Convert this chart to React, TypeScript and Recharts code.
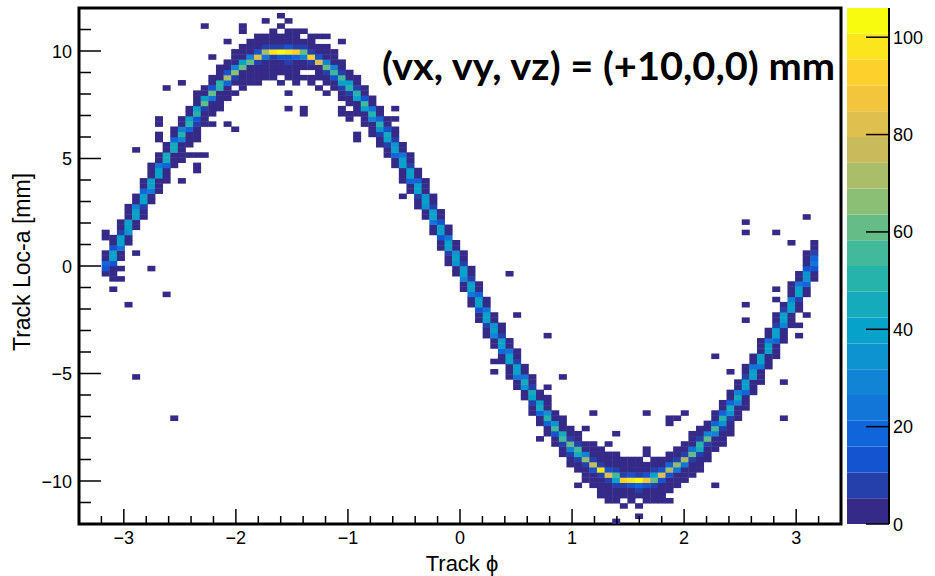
import React from 'react'
import { ScatterChart, Scatter, XAxis, YAxis, ReferenceArea } from 'recharts'

// histogram binning (Track phi vs Track Loc-a)
const X_MIN = -3.4
const X_MAX = 3.4
const NX = 100
const Y_MIN = -12
const Y_MAX = 12
const NY = 100
const Z_MAX = 106
const N_LEVELS = 20

const X_MAJOR = [-3, -2, -1, 0, 1, 2, 3]
const Y_MAJOR = [-10, -5, 0, 5, 10]
const Z_TICKS = [0, 20, 40, 60, 80, 100]

// [phi bin, first loc-a bin, counts going up in loc-a]
const TRACK_COLUMNS: [number, number, number[]][] = [
  [3, 48, [1, 14, 18, 4, 2]],
  [4, 48, [2, 3, 14, 38, 38, 14, 3, 1]],
  [5, 51, [1, 3, 24, 40, 40, 8, 3, 2]],
  [6, 54, [2, 3, 32, 40, 40, 5, 2, 1]],
  [7, 57, [1, 3, 40, 40, 30, 4, 2]],
  [8, 59, [2, 3, 10, 40, 40, 16, 3, 1]],
  [9, 62, [1, 3, 24, 42, 42, 5, 2, 1]],
  [10, 64, [2, 3, 5, 40, 42, 24, 3, 2]],
  [11, 66, [1, 3, 4, 20, 46, 44, 4, 2]],
  [12, 69, [2, 3, 5, 44, 46, 18, 3, 1]],
  [13, 71, [1, 3, 5, 28, 48, 28, 4, 2]],
  [14, 73, [2, 3, 5, 18, 50, 38, 4, 2]],
  [15, 75, [1, 3, 6, 14, 50, 40, 5, 2, 1]],
  [16, 77, [2, 3, 4, 6, 62, 40, 4, 3]],
  [17, 79, [1, 2, 3, 26, 62, 14, 3, 2]],
  [18, 80, [2, 1, 3, 5, 52, 48, 5, 3, 1]],
  [19, 82, [1, 2, 4, 18, 72, 12, 4, 2]],
  [20, 83, [2, 0, 3, 6, 65, 30, 5, 2, 1]],
  [21, 84, [1, 2, 3, 5, 60, 38, 5, 2, 2]],
  [22, 85, [1, 2, 3, 5, 60, 28, 4, 3, 1]],
  [23, 86, [1, 2, 3, 6, 80, 12, 4, 2, 1]],
  [24, 86, [2, 1, 3, 4, 25, 70, 6, 3, 2]],
  [25, 86, [1, 2, 3, 2, 10, 98, 8, 4, 2, 1]],
  [26, 85, [1, 0, 2, 3, 4, 14, 104, 10, 3, 2, 0, 1]],
  [27, 85, [0, 2, 1, 3, 6, 12, 100, 12, 4, 2, 1, 0, 1]],
  [28, 85, [1, 1, 2, 3, 5, 16, 92, 8, 3, 3, 1]],
  [29, 86, [1, 0, 2, 3, 30, 62, 8, 3, 0, 2]],
  [30, 85, [1, 2, 0, 3, 6, 92, 10, 4, 2, 1]],
  [31, 84, [2, 0, 1, 3, 5, 82, 14, 3, 2, 0, 1]],
  [32, 85, [1, 3, 8, 62, 30, 5, 2, 1]],
  [33, 84, [2, 3, 15, 55, 30, 4, 2, 1]],
  [34, 82, [1, 3, 6, 40, 58, 6, 2, 1]],
  [35, 81, [2, 3, 8, 52, 42, 5, 2]],
  [36, 79, [1, 2, 4, 42, 52, 8, 3, 1]],
  [37, 77, [1, 3, 5, 38, 55, 12, 3, 2]],
  [38, 75, [2, 1, 4, 30, 50, 22, 3, 1]],
  [39, 73, [1, 3, 6, 32, 48, 20, 4, 2]],
  [40, 71, [2, 3, 8, 38, 44, 14, 3, 1]],
  [41, 69, [1, 4, 20, 42, 36, 6, 2, 1]],
  [42, 66, [1, 2, 4, 38, 42, 22, 3, 2]],
  [43, 64, [2, 3, 16, 40, 40, 6, 3, 1]],
  [44, 61, [1, 3, 6, 38, 40, 20, 4, 2]],
  [45, 59, [2, 3, 32, 40, 34, 5, 2, 1]],
  [46, 56, [1, 3, 24, 40, 38, 8, 3, 2]],
  [47, 53, [2, 4, 14, 40, 40, 14, 3, 1]],
  [48, 50, [1, 3, 8, 40, 38, 24, 3, 2]],
  [49, 48, [2, 4, 36, 38, 32, 5, 2]],
  [50, 45, [1, 3, 28, 40, 38, 6, 3, 1]],
  [51, 42, [2, 3, 22, 40, 40, 10, 3, 1]],
  [52, 39, [1, 3, 14, 40, 40, 16, 4, 2]],
  [53, 36, [2, 3, 6, 40, 40, 22, 3, 1]],
  [54, 34, [1, 4, 30, 40, 35, 5, 2]],
  [55, 31, [2, 3, 20, 40, 40, 8, 3, 1]],
  [56, 28, [1, 3, 5, 40, 40, 22, 3, 2]],
  [57, 26, [2, 3, 24, 42, 40, 6, 3, 1]],
  [58, 24, [1, 4, 34, 44, 22, 4, 2]],
  [59, 21, [2, 3, 10, 42, 44, 8, 3, 1]],
  [60, 19, [1, 3, 18, 46, 40, 5, 2]],
  [61, 17, [2, 3, 18, 52, 34, 4, 2, 1]],
  [62, 15, [1, 3, 12, 58, 34, 5, 3]],
  [63, 13, [2, 3, 6, 58, 44, 5, 2, 1]],
  [64, 11, [1, 3, 6, 28, 62, 10, 3, 2]],
  [65, 10, [2, 4, 6, 45, 55, 6, 3, 1]],
  [66, 8, [1, 3, 4, 8, 64, 30, 5, 2]],
  [67, 7, [2, 1, 4, 14, 78, 10, 4, 3, 1]],
  [68, 6, [1, 3, 2, 6, 100, 8, 3, 4, 1]],
  [69, 5, [1, 2, 3, 10, 84, 12, 5, 3, 2]],
  [70, 4, [1, 2, 3, 6, 40, 58, 8, 4, 2, 1]],
  [71, 3, [1, 0, 2, 5, 8, 92, 10, 4, 2, 1]],
  [72, 3, [0, 2, 1, 4, 14, 98, 12, 5, 3, 1]],
  [73, 3, [1, 0, 2, 6, 16, 106, 8, 4, 2, 1]],
  [74, 3, [0, 1, 3, 5, 12, 90, 14, 5, 2, 0, 1]],
  [75, 4, [1, 2, 4, 8, 62, 38, 6, 3, 2]],
  [76, 5, [2, 3, 4, 12, 80, 12, 4, 2]],
  [77, 6, [1, 3, 5, 12, 72, 18, 4, 2]],
  [78, 7, [2, 3, 4, 25, 65, 10, 4, 2]],
  [79, 8, [1, 3, 5, 22, 70, 10, 4, 2]],
  [80, 9, [1, 3, 4, 10, 60, 24, 4, 2, 1]],
  [81, 10, [2, 3, 4, 6, 45, 52, 6, 3, 1]],
  [82, 12, [1, 3, 5, 10, 60, 30, 5, 2]],
  [83, 14, [2, 3, 5, 30, 54, 18, 3, 2]],
  [84, 15, [1, 2, 4, 6, 36, 50, 18, 3, 2]],
  [85, 17, [2, 3, 5, 6, 36, 46, 20, 4, 1]],
  [86, 20, [1, 3, 4, 30, 46, 30, 4, 2]],
  [87, 22, [2, 3, 5, 20, 42, 42, 6, 3, 1]],
  [88, 25, [1, 3, 4, 40, 42, 22, 4, 2]],
  [89, 27, [2, 3, 5, 26, 42, 38, 4, 2, 1]],
  [90, 30, [1, 3, 4, 40, 40, 24, 3, 2]],
  [91, 32, [2, 3, 5, 16, 40, 40, 10, 3, 1]],
  [92, 35, [1, 3, 4, 30, 40, 38, 6, 2]],
  [93, 38, [2, 3, 4, 40, 40, 30, 5, 2, 1]],
  [94, 41, [1, 3, 8, 40, 40, 25, 4, 2]],
  [95, 44, [2, 3, 18, 35, 35, 14, 3, 2, 1]],
  [96, 47, [1, 2, 14, 22, 18, 6, 3, 2]],
]

// isolated entries away from the band: [phi bin, loc-a bin, count]
const STRAY_CELLS: [number, number, number][] = [
  [26, 98, 1], [24, 97, 1], [16, 96, 1], [21, 96, 1], [21, 95, 1], [32, 94, 1], [34, 93, 1],
  [19, 93, 1], [17, 90, 1], [13, 85, 1], [11, 84, 1], [23, 85, 1], [27, 83, 1], [27, 80, 1],
  [29, 80, 1], [29, 79, 1], [32, 83, 1], [34, 80, 1], [35, 79, 1], [17, 77, 1], [19, 77, 1],
  [20, 76, 1], [15, 74, 1], [14, 71, 1], [15, 71, 1], [15, 69, 1], [10, 78, 1], [10, 77, 1],
  [10, 75, 1], [10, 74, 1], [7, 72, 1], [36, 75, 1], [36, 74, 1],
  [16, 71, 1], [13, 70, 1], [15, 68, 1], [13, 66, 1], [7, 52, 1], [9, 49, 1], [5, 49, 1],
  [4, 47, 1], [5, 47, 1], [4, 45, 1], [11, 44, 1], [6, 42, 1], [7, 28, 1], [12, 20, 1],
  [3, 55, 1], [3, 56, 1],
  [41, 80, 1], [41, 78, 1], [34, 79, 1], [35, 78, 1], [42, 63, 1], [56, 48, 1], [61, 36, 1],
  [61, 26, 1], [63, 28, 1], [67, 21, 1], [66, 18, 1], [70, 17, 1], [54, 31, 1], [54, 29, 1],
  [57, 40, 1],
  [74, 21, 1], [79, 21, 1], [77, 20, 1], [78, 20, 1], [77, 19, 1], [60, 16, 1], [74, 14, 1],
  [69, 15, 1], [65, 7, 1], [68, 5, 1], [69, 4, 1], [76, 4, 1], [77, 4, 1], [73, 1, 1],
  [70, 0, 1], [83, 7, 1],
  [87, 58, 1], [87, 56, 1], [91, 56, 1], [95, 59, 1], [93, 54, 1], [91, 45, 1], [91, 43, 1],
  [87, 42, 1], [95, 40, 1], [87, 39, 1], [94, 38, 1], [94, 36, 1], [83, 32, 1], [85, 29, 1],
  [92, 27, 1], [92, 20, 1],
]

// ROOT kBird palette
const BIRD_STOPS = [0.0, 0.125, 0.25, 0.375, 0.5, 0.625, 0.75, 0.875, 1.0]
const BIRD_R = [0.2082, 0.0592, 0.078, 0.0232, 0.1802, 0.5301, 0.8186, 0.9956, 0.9764]
const BIRD_G = [0.1664, 0.3599, 0.5041, 0.6419, 0.7178, 0.7492, 0.7328, 0.7862, 0.9832]
const BIRD_B = [0.5293, 0.8684, 0.8385, 0.7914, 0.6425, 0.4662, 0.3499, 0.1968, 0.0539]

function bird(t: number) {
  let k = 0
  while (k < BIRD_STOPS.length - 2 && t > BIRD_STOPS[k + 1]) k++
  const f = (t - BIRD_STOPS[k]) / (BIRD_STOPS[k + 1] - BIRD_STOPS[k])
  const c = (a: number[]) => Math.round(255 * (a[k] + f * (a[k + 1] - a[k])))
  return `rgb(${c(BIRD_R)},${c(BIRD_G)},${c(BIRD_B)})`
}

const LEVEL_STEP = Z_MAX / N_LEVELS
const levelColor = (n: number) =>
  bird(Math.min(N_LEVELS - 1, Math.floor(n / LEVEL_STEP)) / (N_LEVELS - 1))

const DX = (X_MAX - X_MIN) / NX
const DY = (Y_MAX - Y_MIN) / NY

const cells: { x: number; y: number; n: number }[] = []
TRACK_COLUMNS.forEach(([i, j0, counts]) => {
  counts.forEach((n, k) => {
    if (n > 0) cells.push({ x: X_MIN + (i + 0.5) * DX, y: Y_MIN + (j0 + k + 0.5) * DY, n })
  })
})
STRAY_CELLS.forEach(([i, j, n]) => {
  cells.push({ x: X_MIN + (i + 0.5) * DX, y: Y_MIN + (j + 0.5) * DY, n })
})

const xTicks: number[] = []
for (let k = 0; k <= 34; k++) xTicks.push(Math.round((X_MIN + 0.2 * k) * 10) / 10)
const yTicks: number[] = []
for (let v = Y_MIN; v <= Y_MAX; v++) yTicks.push(v)

const W = 935
const H = 576
const M_TOP = 8
const Y_AXIS_W = 79
const X_AXIS_H = 52
const M_RIGHT = 94
const PLOT_W = W - Y_AXIS_W - M_RIGHT
const PLOT_H = H - M_TOP - X_AXIS_H
const CELL_W = PLOT_W / NX
const CELL_H = PLOT_H / NY

const FONT = "'Liberation Sans', Arial, Helvetica, sans-serif"
const fmt = (v: number) => (v < 0 ? '\u2212' + Math.abs(v) : String(v))

function XTick(props: any) {
  const { x, y, payload } = props
  const v = payload.value
  const major = X_MAJOR.includes(v)
  return (
    <g>
      <line x1={x} x2={x} y1={y} y2={y - (major ? 15 : 8)} stroke="#000" strokeWidth={1.5} />
      {major && (
        <text x={x} y={y + 20} textAnchor="middle" fontFamily={FONT} fontSize={18} fill="#000">
          {fmt(v)}
        </text>
      )}
    </g>
  )
}

function YTick(props: any) {
  const { x, y, payload } = props
  const v = payload.value
  const major = Y_MAJOR.includes(v)
  return (
    <g>
      <line x1={x} x2={x + (major ? 22 : 12)} y1={y} y2={y} stroke="#000" strokeWidth={1.5} />
      {major && (
        <text x={x - 7} y={y + 6.5} textAnchor="end" fontFamily={FONT} fontSize={18} fill="#000">
          {fmt(v)}
        </text>
      )}
    </g>
  )
}

function ZTick(props: any) {
  const { x, y, payload } = props
  return (
    <g>
      <line x1={x - 23} x2={x} y1={y} y2={y} stroke="#000" strokeWidth={1.5} />
      <text x={x + 4} y={y + 6.5} textAnchor="start" fontFamily={FONT} fontSize={18} fill="#000">
        {payload.value}
      </text>
    </g>
  )
}

function BinCell(props: any) {
  const { cx, cy, payload } = props
  return (
    <rect
      x={cx - CELL_W / 2 - 0.2}
      y={cy - CELL_H / 2 - 0.2}
      width={CELL_W + 0.4}
      height={CELL_H + 0.4}
      fill={levelColor(payload.n)}
    />
  )
}

const levels = Array.from({ length: N_LEVELS }, (_, k) => k)

export default function App() {
  return (
    <div style={{ position: 'absolute', left: 0, top: 0, width: W, height: H, background: '#fff' }}>
      <div style={{ position: 'absolute', left: 0, top: 0 }}>
        <ScatterChart width={W} height={H} margin={{ top: M_TOP, right: M_RIGHT, bottom: 0, left: 0 }}>
          <XAxis
            type="number"
            dataKey="x"
            domain={[X_MIN, X_MAX]}
            ticks={xTicks}
            interval={0}
            tickSize={0}
            tickMargin={0}
            tickLine={false}
            axisLine={false}
            height={X_AXIS_H}
            tick={(p: any) => <XTick {...p} />}
            allowDataOverflow
          />
          <YAxis
            type="number"
            dataKey="y"
            domain={[Y_MIN, Y_MAX]}
            ticks={yTicks}
            interval={0}
            tickSize={0}
            tickMargin={0}
            tickLine={false}
            axisLine={false}
            width={Y_AXIS_W}
            tick={(p: any) => <YTick {...p} />}
            allowDataOverflow
          />
          <Scatter data={cells} isAnimationActive={false} shape={(p: any) => <BinCell {...p} />} />
          <ReferenceArea
            x1={X_MIN}
            x2={X_MAX}
            y1={Y_MIN}
            y2={Y_MAX}
            fill="none"
            fillOpacity={0}
            stroke="#000"
            strokeWidth={3}
          />
        </ScatterChart>
      </div>
      <div style={{ position: 'absolute', left: 0, top: 0 }}>
        <ScatterChart width={W} height={H} margin={{ top: M_TOP, right: 0, bottom: X_AXIS_H, left: 847 }}>
          <XAxis type="number" dataKey="x" domain={[0, 1]} hide />
          <YAxis
            type="number"
            dataKey="z"
            orientation="right"
            domain={[0, Z_MAX]}
            ticks={Z_TICKS}
            interval={0}
            tickSize={0}
            tickMargin={0}
            tickLine={false}
            axisLine={{ stroke: '#000', strokeWidth: 2 }}
            width={46}
            tick={(p: any) => <ZTick {...p} />}
            allowDataOverflow
          />
          {levels.map((k) => (
            <ReferenceArea
              key={k}
              y1={k * LEVEL_STEP}
              y2={(k + 1) * LEVEL_STEP}
              fill={bird(k / (N_LEVELS - 1))}
              fillOpacity={1}
              stroke="none"
            />
          ))}
          <Scatter data={[{ x: 0, z: 0 }]} isAnimationActive={false} shape={() => <g />} />
        </ScatterChart>
      </div>
      <svg width={W} height={H} style={{ position: 'absolute', left: 0, top: 0, pointerEvents: 'none' }}>
        <text x={462} y={571} textAnchor="middle" fontFamily={FONT} fontSize={22} fill="#000">
          Track ϕ
        </text>
        <text
          x={30}
          y={262}
          textAnchor="middle"
          transform="rotate(-90, 30, 262)"
          fontFamily={FONT}
          fontSize={23}
          fill="#000"
        >
          Track Loc-a [mm]
        </text>
        <text
          x={382}
          y={80}
          textLength={453}
          lengthAdjust="spacingAndGlyphs"
          fontFamily="Lato, 'Open Sans', sans-serif"
          fontWeight={700}
          fontSize={38}
          fill="#000"
        >
          (vx, vy, vz) = (+10,0,0) mm
        </text>
      </svg>
    </div>
  )
}
